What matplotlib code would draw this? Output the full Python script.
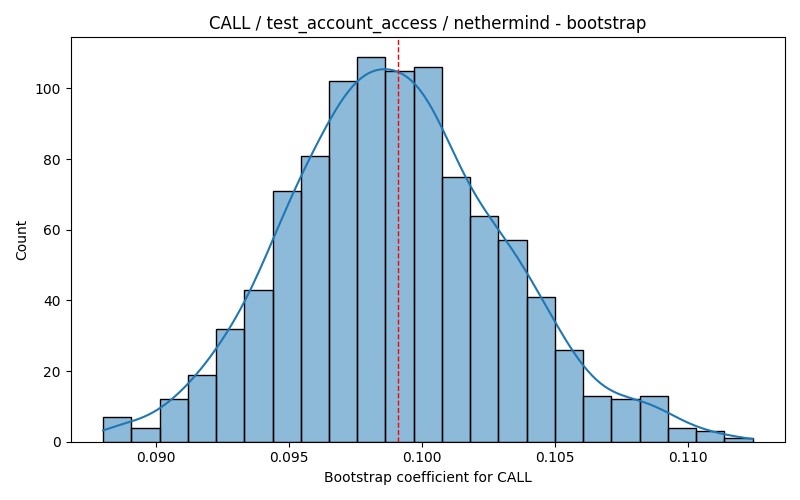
import numpy as np
import matplotlib
matplotlib.use("Agg")
import matplotlib.pyplot as plt

# histogram (1000 bootstrap samples)
counts = [7, 4, 12, 19, 32, 43, 71, 81, 102, 109, 105, 106,
          75, 64, 57, 41, 26, 13, 12, 13, 4, 3, 1]
bin_start = 0.08803
bin_end = 0.11242
coef_value = 0.09911

title = "CALL / test_account_access / nethermind - bootstrap"
xlabel = "Bootstrap coefficient for CALL"
ylabel = "Count"


def kde_curve(centers, weights, grid):
    # weighted gaussian kde, scott bandwidth
    w = weights / weights.sum()
    mean = np.sum(w * centers)
    std = np.sqrt(np.sum(w * (centers - mean) ** 2))
    n = weights.sum()
    bw = std * n ** (-1 / 5)
    d = (grid[:, None] - centers[None, :]) / bw
    dens = np.sum(w * np.exp(-0.5 * d ** 2), axis=1) / (bw * np.sqrt(2 * np.pi))
    return dens


def main():
    counts_arr = np.array(counts, dtype=float)
    edges = np.linspace(bin_start, bin_end, len(counts) + 1)
    centers = (edges[:-1] + edges[1:]) / 2
    width = edges[1] - edges[0]

    fig, ax = plt.subplots(figsize=(8, 5), dpi=100)
    ax.hist(centers, bins=edges, weights=counts_arr,
            facecolor=(31/255, 119/255, 180/255, 0.5), edgecolor="black", linewidth=1)

    grid = np.linspace(bin_start, bin_end, 300)
    dens = kde_curve(centers, counts_arr, grid)
    ax.plot(grid, dens * counts_arr.sum() * width, color="#1f77b4", linewidth=1.5)

    ax.axvline(coef_value, color="red", linestyle="--", linewidth=1)

    ax.set_title(title)
    ax.set_xlabel(xlabel)
    ax.set_ylabel(ylabel)
    ax.margins(x=0.05)
    ax.set_xticks([0.090, 0.095, 0.100, 0.105, 0.110])
    fig.tight_layout()
    fig.savefig("out.png")


if __name__ == "__main__":
    main()
